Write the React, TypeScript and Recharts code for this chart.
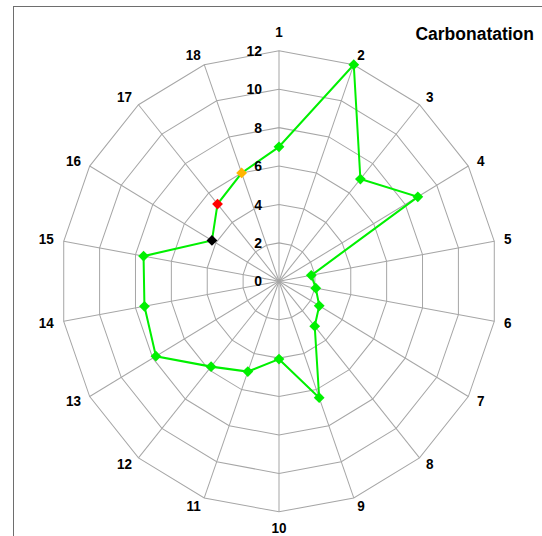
import React from 'react'
import { RadarChart, Radar, PolarGrid, PolarAngleAxis, PolarRadiusAxis } from 'recharts'

// axis labels and values
const categories = ['1', '2', '3', '4', '5', '6', '7', '8', '9', '10', '11', '12', '13', '14', '15', '16', '17', '18']
const carbonatation = [7, 12, 6.95, 8.8, 1.8, 2.05, 2.55, 3.05, 6.45, 4.05, 5.0, 5.8, 7.8, 7.5, 7.55, 4.25, 5.25, 6.0]
const radiusTicks = [0, 2, 4, 6, 8, 10, 12]
const title = 'Carbonatation'

// marker colours for the highlighted categories, everything else is green
const markerColours: Record<string, string> = { '16': '#000000', '17': '#ff0000', '18': '#ffb400' }

const data = categories.map((c, i) => ({ name: c, value: carbonatation[i] }))

const W = 542
const H = 536
const CX = 279
const CY = 281.3
const R = 218.6
const S = 1.0545 // the reference is a little taller than wide
const GREEN = '#00f000'
const FONT = '"Liberation Sans", Arial, sans-serif'

function AngleTick(props: any) {
  const { payload } = props
  const rad = (payload.coordinate * Math.PI) / 180
  const sx = Math.cos(rad)
  const sy = Math.sin(rad)
  const vx = CX + R * sx
  const vyF = CY - R * S * sy
  let anchor = 'middle'
  let lx = vx
  let lyF
  if (Math.abs(sx) < 1e-6) {
    lyF = vyF + (sy > 0 ? -19 : 16.5)
  } else {
    anchor = sx > 0 ? 'start' : 'end'
    lx = vx + 10 * sx
    lyF = vyF - sy * (sy > 0 ? 10.5 : 8.5)
  }
  const ly = CY + (lyF - CY) / S
  return (
    <text x={lx} y={ly} dy="0.35em" textAnchor={anchor} fontFamily={FONT} fontWeight="bold" fontSize={13.5} fill="#000">
      {payload.value}
    </text>
  )
}

function RadiusTick(props: any) {
  const { x, y, payload } = props
  return (
    <text x={x - 17} y={y} dy="0.35em" textAnchor="end" fontFamily={FONT} fontWeight="bold" fontSize={14} fill="#000">
      {payload.value}
    </text>
  )
}

function Diamond(props: any) {
  const { cx, cy, index } = props
  if (cx == null || cy == null) return null
  const fill = markerColours[categories[index]] || GREEN
  const w = 5.4
  const h = 5.1
  return <path key={`d-${index}`} d={`M${cx},${cy - h}L${cx + w},${cy}L${cx},${cy + h}L${cx - w},${cy}Z`} fill={fill} />
}

export default function App() {
  return (
    <div style={{ position: 'fixed', left: 0, top: 0, width: W, height: H, overflow: 'hidden', background: '#fff' }}>
      <div
        style={{
          position: 'absolute',
          left: 13,
          top: 6,
          width: 700,
          height: 700,
          borderLeft: '1.5px solid #6e6e6e',
          borderTop: '1.5px solid #6e6e6e',
        }}
      />
      <div
        style={{
          position: 'absolute',
          left: 0,
          top: 0,
          width: W,
          height: H,
          transform: `scaleY(${S})`,
          transformOrigin: `0px ${CY}px`,
        }}
      >
        <RadarChart width={W} height={H} data={data} cx={CX} cy={CY} outerRadius={R} margin={{ top: 0, right: 0, bottom: 0, left: 0 }}>
          <PolarGrid gridType="polygon" stroke="#a6a6a6" strokeWidth={1} />
          <PolarAngleAxis dataKey="name" tick={AngleTick} tickLine={false} axisLine={false} />
          <PolarRadiusAxis
            angle={90}
            domain={[radiusTicks[0], radiusTicks[radiusTicks.length - 1]]}
            tickCount={radiusTicks.length}
            tick={RadiusTick}
            axisLine={false}
            tickLine={false}
          />
          <Radar
            dataKey="value"
            stroke={GREEN}
            strokeWidth={2}
            fill="none"
            fillOpacity={0}
            dot={Diamond}
            isAnimationActive={false}
          />
        </RadarChart>
        <svg width={W} height={H} style={{ position: 'absolute', left: 0, top: 0, pointerEvents: 'none' }}>
          <text
            x={534}
            y={CY + (33.3 - CY) / S}
            dy="0.35em"
            textAnchor="end"
            fontFamily={FONT}
            fontWeight="bold"
            fontSize={17.5}
            fill="#000"
          >
            {title}
          </text>
        </svg>
      </div>
    </div>
  )
}
